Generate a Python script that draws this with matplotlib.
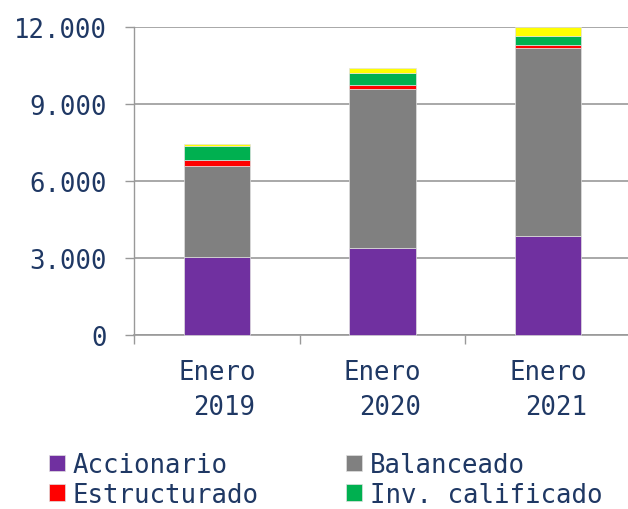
import matplotlib
matplotlib.use('Agg')
import matplotlib.pyplot as plt
import numpy as np

# data
categories = ['Enero\n2019', 'Enero\n2020', 'Enero\n2021']
accionario = [3050, 3365, 3835]
balanceado = [3520, 6230, 7340]
estructurado = [235, 170, 130]
inv_calificado = [550, 470, 370]
otros = [80, 185, 355]

yticks = [0, 3000, 6000, 9000, 12000]
ytick_labels = ['0', '3.000', '6.000', '9.000', '12.000']

text_color = '#1F3864'
grid_color = '#999999'
plt.rcParams['font.family'] = ['DejaVu Sans Mono']

fig = plt.figure(figsize=(6.28, 5.10), dpi=100)
ax = fig.add_axes([134/628, 1 - 335.7/510, 497/628, 307.4/510])

x = np.arange(len(categories))
series = [
    (accionario, '#7030A0', 'Accionario'),
    (balanceado, '#808080', 'Balanceado'),
    (estructurado, '#FF0000', 'Estructurado'),
    (inv_calificado, '#00B050', 'Inv. calificado'),
    (otros, '#FFFF00', None),
]
bottom = np.zeros(len(categories))
handles = {}
for vals, col, lab in series:
    b = ax.bar(x, vals, 0.4, bottom=bottom, color=col, edgecolor='#e0e0e0',
               linewidth=0.5, zorder=3, clip_on=False)
    bottom += np.array(vals)
    if lab:
        handles[lab] = b

ax.set_xlim(-0.5, 2.5)
ax.set_ylim(0, 12000)
ax.set_yticks(yticks)
ax.set_yticklabels(ytick_labels)
ax.yaxis.grid(True, color=grid_color, linewidth=1.2, zorder=0)
ax.set_axisbelow(True)

ax.set_xticks(x)
ax.set_xticklabels(categories, multialignment='right', linespacing=1.45)
ax.set_xticks([-0.5, 0.5, 1.5, 2.5], minor=True)
ax.tick_params(axis='x', which='major', length=0, pad=17.5, labelsize=18.5,
               labelcolor=text_color)
ax.tick_params(axis='x', which='minor', length=6.5, width=1.0, color=grid_color)
ax.tick_params(axis='y', length=6.5, width=1.0, color=grid_color, pad=13,
               labelsize=18.5, labelcolor=text_color)

for s in ['top', 'right']:
    ax.spines[s].set_visible(False)
ax.spines['left'].set_color(grid_color)
ax.spines['bottom'].set_color(grid_color)
ax.spines['left'].set_linewidth(1.0)
ax.spines['bottom'].set_linewidth(1.2)

order = ['Accionario', 'Estructurado', 'Balanceado', 'Inv. calificado']
leg = fig.legend([handles[k] for k in order], order, ncol=2, frameon=False,
                 loc='upper left', bbox_to_anchor=(49/628, 1 - 453/510),
                 borderpad=0, borderaxespad=0, handlelength=0.62,
                 handleheight=0.62, handletextpad=0.31, columnspacing=3.4,
                 labelspacing=0.15, fontsize=18.5)
for t in leg.get_texts():
    t.set_color(text_color)

fig.savefig('out.png', dpi=100)
